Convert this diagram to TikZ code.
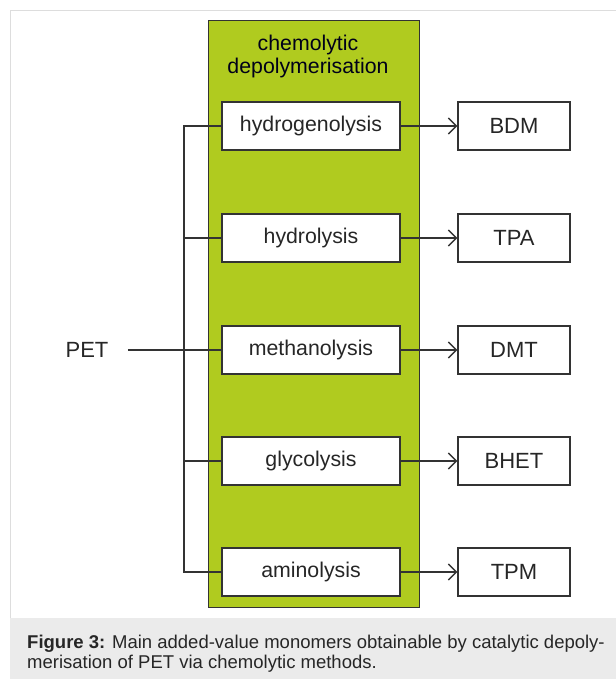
\documentclass[tikz,border=0pt]{standalone}
\usepackage{fontspec}
\setmainfont{Liberation Sans}
\usepackage{tikz}
\usetikzlibrary{
  arrows.meta,
  positioning,
  calc,
}
\definecolor{chemoGreen}{HTML}{B0CB1F}
\definecolor{lineGray}{HTML}{333333}
\definecolor{frameGray}{HTML}{DDDDDD}
\definecolor{captionGray}{HTML}{EBEBEB}
\tikzset{
  stagebox/.style={
    rectangle, draw=lineGray, line width=1pt, fill=chemoGreen,
    minimum width=211pt, minimum height=586pt, inner sep=0pt,
  },
  procbox/.style={
    rectangle, draw=lineGray, line width=1.2pt, fill=white,
    minimum width=178pt, minimum height=48pt, inner sep=0pt,
    font=\fontsize{21.3}{24}\selectfont, text=black!85,
  },
  prodbox/.style={
    rectangle, draw=lineGray, line width=1.2pt, fill=white,
    minimum width=112pt, minimum height=48pt, inner sep=0pt,
    font=\fontsize{22}{24}\selectfont, text=black!85,
  },
  link/.style={
    draw=lineGray, line width=1.3pt,
  },
  arrowOpen/.style={
    -{Straight Barb[length=8pt,width=16pt,line width=1.5pt]},
    line width=1.3pt, draw=lineGray,
  },
}

\begin{document}
\begin{tikzpicture}[x=1pt, y=-1pt]
\useasboundingbox (0,0) rectangle (615,679);

% Frame and caption strip
\draw[frameGray, line width=1pt] (10,618) -- (10,11) -- (616,11);
\fill[captionGray] (10,618) rectangle (616,679);
\node[anchor=north west, inner sep=0pt, align=left,
      font=\fontsize{18.5}{20}\selectfont, text=black!85] (caption) at (27,634.5)
  {\textbf{Figure 3:} Main added-value monomers obtainable by catalytic depoly-\\
   merisation of PET via chemolytic methods.};

% Green stage
\node[stagebox] (chemo) at (313.5,314) {};
\node[align=center, font=\fontsize{21.3}{22.5}\selectfont, text=black!90!blue]
   (chemoTitle) at (308,56.5) {chemolytic\\depolymerisation};

% Processes and products
\foreach \name/\proc/\prod/\ypos in {
    hydgen/hydrogenolysis/BDM/126,
    hydro/hydrolysis/TPA/238,
    meth/methanolysis/DMT/350,
    glyc/glycolysis/BHET/461,
    amino/aminolysis/TPM/572}
{
  \node[procbox] (\name) at (311,\ypos) {\proc};
  \node[prodbox] (\name-out) at (514,\ypos) {\prod};
  \draw[arrowOpen] (\name.east) -- (\name-out.west);
}

% Feed line from PET
\node[font=\fontsize{22}{24}\selectfont, text=black!85] (pet) at (87,350) {PET};
\draw[link] (pet.east) ++(16pt,0) -- (meth.west);

% Distribution bus
\coordinate (busTop) at (184,126);
\coordinate (busBot) at (184,572);
\draw[link] (hydgen.west) -- (busTop) -- (busBot) -- (amino.west);
\foreach \name in {hydro, glyc}
  \draw[link] (busTop |- \name.west) -- (\name.west);

\end{tikzpicture}
\end{document}
